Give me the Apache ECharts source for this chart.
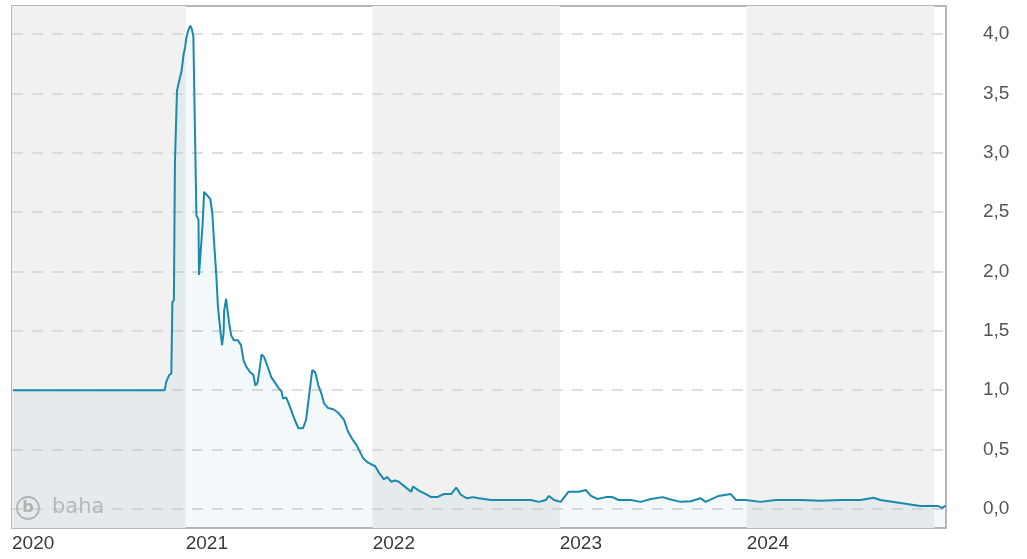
<!DOCTYPE html>
<html>
<head>
<meta charset="utf-8">
<script src="https://cdn.jsdelivr.net/npm/echarts@6/dist/echarts.min.js"></script>
<style>
  html, body { margin: 0; padding: 0; background: #fff; }
  #chart { width: 1027px; height: 559px; }
</style>
</head>
<body>
<div id="chart"></div>
<script>
// Share price history, 2020 – 2025
const dates = [
  '2020-01-30', '2020-11-21', '2020-11-24', '2020-11-27', '2020-11-30', '2020-12-04',
  '2020-12-06', '2020-12-09', '2020-12-11', '2020-12-15', '2020-12-18', '2020-12-24',
  '2020-12-28', '2020-12-31', '2021-01-02', '2021-01-06', '2021-01-10', '2021-01-13',
  '2021-01-16', '2021-01-18', '2021-01-22', '2021-01-26', '2021-01-27', '2021-01-29',
  '2021-02-01', '2021-02-03', '2021-02-06', '2021-02-12', '2021-02-18', '2021-02-22',
  '2021-02-26', '2021-03-02', '2021-03-05', '2021-03-10', '2021-03-13', '2021-03-16',
  '2021-03-17', '2021-03-21', '2021-03-23', '2021-03-27', '2021-03-31', '2021-04-05',
  '2021-04-13', '2021-04-19', '2021-04-24', '2021-04-29', '2021-05-07', '2021-05-13',
  '2021-05-17', '2021-05-21', '2021-05-25', '2021-05-29', '2021-06-03', '2021-06-09',
  '2021-06-17', '2021-06-25', '2021-07-01', '2021-07-07', '2021-07-10', '2021-07-16',
  '2021-07-20', '2021-07-26', '2021-08-01', '2021-08-09', '2021-08-18', '2021-08-24',
  '2021-08-28', '2021-09-01', '2021-09-05', '2021-09-11', '2021-09-17', '2021-09-23',
  '2021-09-28', '2021-10-06', '2021-10-16', '2021-10-26', '2021-11-06', '2021-11-14',
  '2021-11-22', '2021-11-30', '2021-12-05', '2021-12-13', '2021-12-23', '2022-01-06',
  '2022-01-14', '2022-01-23', '2022-01-29', '2022-02-06', '2022-02-14', '2022-02-21',
  '2022-03-07', '2022-03-17', '2022-03-21', '2022-04-01', '2022-04-15', '2022-04-25',
  '2022-05-07', '2022-05-20', '2022-06-03', '2022-06-13', '2022-06-22', '2022-07-04',
  '2022-07-16', '2022-07-27', '2022-08-20', '2022-09-28', '2022-11-06', '2022-11-21',
  '2022-12-05', '2022-12-11', '2022-12-21', '2023-01-03', '2023-01-18', '2023-02-07',
  '2023-02-21', '2023-03-03', '2023-03-16', '2023-04-01', '2023-04-14', '2023-04-26',
  '2023-05-20', '2023-06-08', '2023-06-28', '2023-07-21', '2023-08-02', '2023-08-25',
  '2023-09-14', '2023-10-03', '2023-10-13', '2023-11-07', '2023-12-01', '2023-12-11',
  '2023-12-30', '2024-01-28', '2024-02-27', '2024-04-15', '2024-05-24', '2024-07-02',
  '2024-08-10', '2024-09-05', '2024-09-18', '2024-10-27', '2024-12-05', '2025-01-09',
  '2025-01-17', '2025-01-23'
];
const prices = [
  1.00, 1.00, 1.07, 1.10, 1.13, 1.14,
  1.74, 1.76, 2.91, 3.52, 3.58, 3.69,
  3.83, 3.89, 3.96, 4.03, 4.07, 4.04,
  3.98, 3.46, 2.47, 2.44, 1.97, 2.09,
  2.10, 2.40, 2.67, 2.64, 2.61, 2.49,
  2.21, 1.95, 1.70, 1.49, 1.38, 1.48,
  1.67, 1.77, 1.69, 1.56, 1.46, 1.42,
  1.42, 1.38, 1.25, 1.20, 1.15, 1.13,
  1.04, 1.06, 1.17, 1.30, 1.28, 1.21,
  1.11, 1.06, 1.02, 0.99, 0.93, 0.94,
  0.90, 0.83, 0.76, 0.68, 0.68, 0.75,
  0.89, 1.03, 1.17, 1.15, 1.04, 0.97,
  0.89, 0.85, 0.84, 0.81, 0.75, 0.65,
  0.59, 0.54, 0.50, 0.43, 0.39, 0.36,
  0.30, 0.25, 0.27, 0.23, 0.24, 0.23,
  0.18, 0.145, 0.19, 0.155, 0.126, 0.10,
  0.10, 0.126, 0.126, 0.18, 0.12, 0.09,
  0.10, 0.09, 0.076, 0.075, 0.076, 0.06,
  0.076, 0.11, 0.076, 0.06, 0.145, 0.145,
  0.16, 0.11, 0.084, 0.10, 0.10, 0.076,
  0.076, 0.06, 0.084, 0.10, 0.084, 0.06,
  0.065, 0.09, 0.06, 0.11, 0.126, 0.076,
  0.076, 0.06, 0.076, 0.076, 0.07, 0.076,
  0.076, 0.095, 0.076, 0.05, 0.025, 0.025,
  0.008, 0.03
];

// Visible time window and axis scale
const xStart = '2020-01-28';
const xEnd = '2025-01-24';
const yMin = -0.16;
const yMax = 4.235;

// Year markers (first label sits at the left edge of the window)
const yearStarts = [xStart, '2021-01-01', '2022-01-01', '2023-01-01', '2024-01-01'];
// Shaded years
const shadedYears = [[xStart, '2021-01-01'], ['2022-01-01', '2023-01-01'], ['2024-01-01', '2025-01-01']];
// Horizontal reference levels
const gridLevels = [0, 0.5, 1.0, 1.5, 2.0, 2.5, 3.0, 3.5, 4.0];

const lineColor = '#1a89ad';

// dates are read as UTC midnight timestamps
const ts = s => Date.parse(s + 'T00:00:00Z');

const chart = echarts.init(document.getElementById('chart'), null, { renderer: 'canvas' });

const logoFont = 'DejaVu Sans, Verdana, sans-serif';

chart.setOption({
  animation: false,
  backgroundColor: '#ffffff',
  grid: {
    left: 12, top: 6, right: 81, bottom: 31,
    show: true,
    backgroundColor: '#ffffff',
    borderColor: '#b8b8b8',
    borderWidth: 2
  },
  xAxis: {
    type: 'value',
    min: ts(xStart),
    max: ts(xEnd),
    axisLine: { show: false },
    axisTick: { show: false },
    splitLine: { show: false },
    axisLabel: {
      customValues: yearStarts.map(ts),
      formatter: v => String(new Date(v).getUTCFullYear()),
      align: 'left',
      margin: 6,
      fontFamily: 'Liberation Sans, Arial, sans-serif',
      fontSize: 19,
      color: '#3a3a3a',
      hideOverlap: false
    }
  },
  yAxis: {
    type: 'value',
    min: yMin,
    max: yMax,
    axisLine: { show: false },
    axisTick: { show: false },
    axisLabel: { show: false },
    splitLine: { show: false }
  },
  // watermark in the lower left corner
  graphic: {
    elements: [
      { type: 'circle', z: 100, silent: true,
        shape: { cx: 28, cy: 508, r: 11 },
        style: { fill: 'none', stroke: '#b5b5b5', lineWidth: 1.8 } },
      { type: 'text', z: 100, silent: true, x: 28, y: 508,
        style: { text: 'b', fill: '#b0b0b0', font: 'bold 16px ' + logoFont,
                 align: 'center', verticalAlign: 'middle' } },
      { type: 'text', z: 100, silent: true, x: 52, y: 508,
        style: { text: 'baha', fill: '#b8b8b8', font: '21px ' + logoFont,
                 align: 'left', verticalAlign: 'middle' } }
    ]
  },
  series: [
    {
      // alternating year bands
      type: 'line',
      data: [],
      z: 0,
      silent: true,
      markArea: {
        silent: true,
        z: 0,
        itemStyle: { color: '#f1f1f1' },
        data: shadedYears.map(([a, b]) => [{ xAxis: ts(a) }, { xAxis: ts(b) }])
      }
    },
    {
      // dashed reference levels with their value labels on the right
      type: 'line',
      data: [],
      z: 1,
      silent: true,
      markLine: {
        silent: true,
        z: 1,
        symbol: ['none', 'none'],
        lineStyle: { type: [11, 9], color: '#d3d3d3', width: 1.5 },
        label: {
          position: 'end',
          distance: 37,
          formatter: p => p.value.toFixed(1).replace('.', ','),
          fontFamily: 'Liberation Sans, Arial, sans-serif',
          fontSize: 19,
          color: '#555555'
        },
        data: gridLevels.map(v => ({ yAxis: v }))
      }
    },
    {
      name: 'Kurs',
      type: 'line',
      z: 3,
      showSymbol: false,
      symbol: 'none',
      data: dates.map((d, i) => [ts(d), prices[i]]),
      lineStyle: { color: lineColor, width: 2 },
      areaStyle: { color: 'rgba(26,137,173,0.075)', origin: 'start' }
    }
  ]
});
</script>
</body>
</html>
